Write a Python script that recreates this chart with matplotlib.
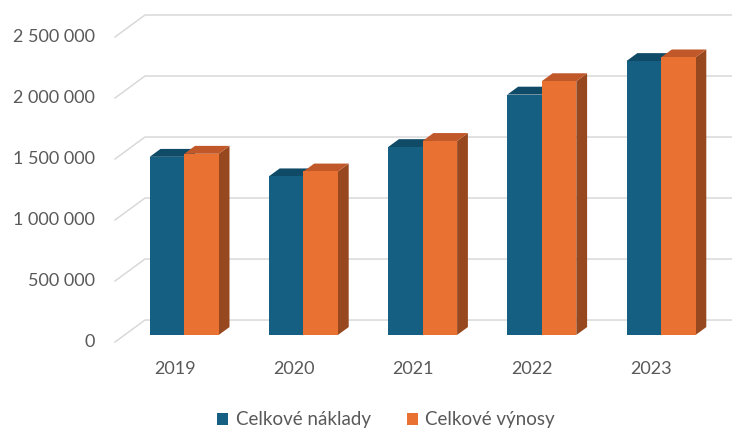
import matplotlib.pyplot as plt
from matplotlib.patches import Polygon

roky = ['2019', '2020', '2021', '2022', '2023']
naklady = [1460000, 1300000, 1540000, 1970000, 2245000]
vynosy = [1485000, 1340000, 1590000, 2080000, 2275000]
yticks = [0, 500000, 1000000, 1500000, 2000000, 2500000]

plt.rcParams['font.family'] = ['Lato', 'DejaVu Sans']

# oblique "3D" projection: depth z in [0, 1] shifts x and y
PX = 119.2           # pixels per category
DX = 30 / PX         # category units
DY = 180000          # value units
Z0, ZD = 0.32, 0.36  # bar position/thickness in depth
W = 34.5 / PX

fig = plt.figure(figsize=(7.32, 4.30), dpi=100)
ax = fig.add_axes([115/732, 88/430, 617/732, 327/430])
ax.set_xlim(0, 617/PX)
ax.set_ylim(0, 2500000 + DY)
ax.axis('off')

grid_c = '#d9d9d9'
for v in yticks:
    ax.plot([0, DX, 10], [v, v + DY, v + DY], color=grid_c, lw=1.1, zorder=1, clip_on=False)
    ax.text(-0.17, v, f'{v:,}'.replace(',', ' '), ha='right', va='center',
            fontsize=13, color='#595959')

series = [
    (naklady, '#156082', '#0f4a66', '#0f4a66', 'Celkové náklady'),
    (vynosy, '#e97132', '#c0582a', '#98481f', 'Celkové výnosy'),
]

for i, rok in enumerate(roky):
    ax.text(i + 0.5, -220000, rok, ha='center', va='center', fontsize=13, color='#595959')
    for j, (vals, front, top, side, lab) in enumerate(series):
        x0 = i + 0.5 - W + j * W + Z0 * DX
        x1 = x0 + W
        b = Z0 * DY
        t = vals[i] + Z0 * DY
        ox, oy = ZD * DX, ZD * DY
        ax.add_patch(Polygon([(x1, b), (x1 + ox, b + oy), (x1 + ox, t + oy), (x1, t)],
                             closed=True, fc=side, ec='none', zorder=2 + j))
        ax.add_patch(Polygon([(x0, t), (x1, t), (x1 + ox, t + oy), (x0 + ox, t + oy)],
                             closed=True, fc=top, ec='none', zorder=2 + j))
        ax.add_patch(Polygon([(x0, b), (x1, b), (x1, t), (x0, t)],
                             closed=True, fc=front, ec='none', zorder=2 + j))

# legend
handles = [plt.Rectangle((0, 0), 1, 1, fc=s[1]) for s in series]
fig.legend(handles, [s[4] for s in series], loc='center', bbox_to_anchor=(386/732, 10/430),
           ncol=2, frameon=False, fontsize=13.5, labelcolor='#595959',
           handlelength=0.6, handleheight=0.6, handletextpad=0.4, columnspacing=1.9)

fig.savefig('out.png', dpi=100)
